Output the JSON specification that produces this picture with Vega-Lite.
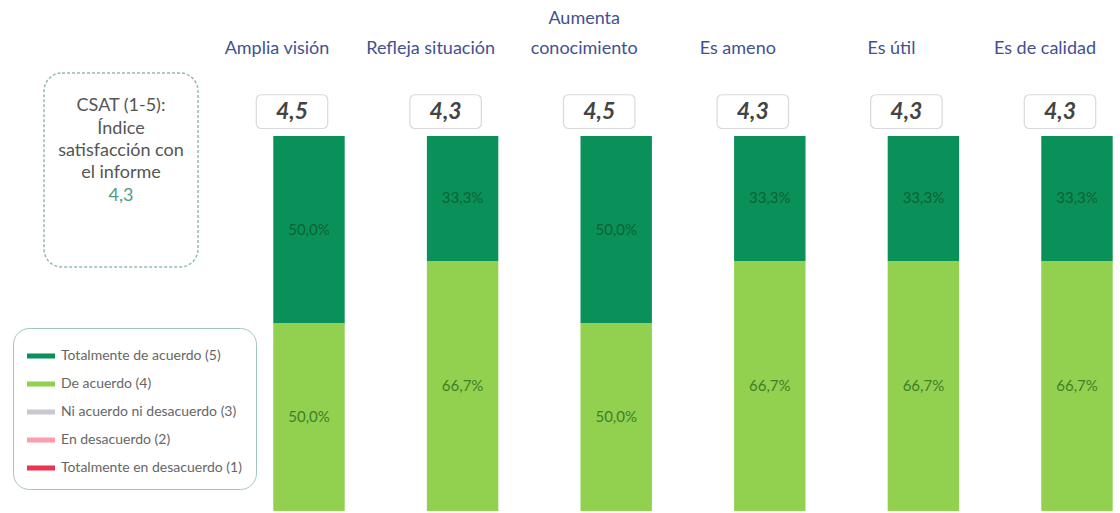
{
  "$schema": "https://vega.github.io/schema/vega-lite/v6.json",
  "padding": {"left": 12, "top": 27, "right": 0, "bottom": 2},
  "background": "white",
  "bounds": "flush",
  "spacing": 20,
  "config": {
    "font": "Lato",
    "locale": {"number": {"decimal": ",", "thousands": ".", "grouping": [3], "currency": ["", " €"]}},
    "view": {"stroke": null}
  },
  "hconcat": [
    {
      "width": 154,
      "height": 194,
      "view": {"stroke": "#93bcae", "strokeDash": [3, 2], "strokeWidth": 1.5, "cornerRadius": 18, "fill": "white"},
      "layer": [
        {
          "data": {"values": [
            {"line": 1, "text": "CSAT (1-5):"},
            {"line": 2, "text": "Índice"},
            {"line": 3, "text": "satisfacción con"},
            {"line": 4, "text": "el informe"}
          ]},
          "mark": {"type": "text", "fontSize": 18, "color": "#555555"},
          "encoding": {
            "y": {"field": "line", "type": "quantitative", "scale": {"domain": [-0.5, 8.2], "reverse": true}, "axis": null},
            "text": {"field": "text"}
          }
        },
        {
          "data": {"values": [{"line": 5, "csat": 4.3}]},
          "mark": {"type": "text", "fontSize": 18, "color": "#4e9c84"},
          "encoding": {
            "y": {"field": "line", "type": "quantitative", "scale": {"domain": [-0.5, 8.2], "reverse": true}, "axis": null},
            "text": {"field": "csat", "type": "quantitative", "format": ".1f"}
          }
        }
      ]
    },
    {
      "width": 950,
      "height": 438,
      "encoding": {
        "x": {
          "field": "item",
          "type": "nominal",
          "scale": {
            "domain": ["Amplia visión", "Refleja situación", "Aumenta conocimiento", "Es ameno", "Es útil", "Es de calidad"],
            "paddingInner": 0.535,
            "paddingOuter": 0.36
          },
          "axis": {
            "orient": "top",
            "title": null,
            "domain": false,
            "ticks": false,
            "labelPadding": 16,
            "labelFontSize": 18,
            "labelColor": "#43518f",
            "labelAngle": 0,
            "labelOffset": -32,
            "labelLimit": 0,
            "labelLineHeight": -30,
            "labelExpr": "datum.value == 'Aumenta conocimiento' ? ['conocimiento', 'Aumenta'] : datum.value"
          }
        }
      },
      "layer": [
        {
          "data": {"name": "resp", "values": [
            {"item": "Amplia visión", "cat": "Totalmente de acuerdo (5)", "pct": 0.5},
            {"item": "Amplia visión", "cat": "De acuerdo (4)", "pct": 0.5},
            {"item": "Refleja situación", "cat": "Totalmente de acuerdo (5)", "pct": 0.333},
            {"item": "Refleja situación", "cat": "De acuerdo (4)", "pct": 0.667},
            {"item": "Aumenta conocimiento", "cat": "Totalmente de acuerdo (5)", "pct": 0.5},
            {"item": "Aumenta conocimiento", "cat": "De acuerdo (4)", "pct": 0.5},
            {"item": "Es ameno", "cat": "Totalmente de acuerdo (5)", "pct": 0.333},
            {"item": "Es ameno", "cat": "De acuerdo (4)", "pct": 0.667},
            {"item": "Es útil", "cat": "Totalmente de acuerdo (5)", "pct": 0.333},
            {"item": "Es útil", "cat": "De acuerdo (4)", "pct": 0.667},
            {"item": "Es de calidad", "cat": "Totalmente de acuerdo (5)", "pct": 0.333},
            {"item": "Es de calidad", "cat": "De acuerdo (4)", "pct": 0.667}
          ]},
          "transform": [
            {"stack": "pct", "groupby": ["item"], "sort": [{"field": "cat", "order": "ascending"}], "as": ["y0", "y1"]}
          ],
          "mark": {"type": "bar"},
          "encoding": {
            "y": {"field": "y0", "type": "quantitative", "scale": {"domain": [0, 1.168], "nice": false}, "axis": null},
            "y2": {"field": "y1"},
            "color": {
              "field": "cat",
              "type": "nominal",
              "scale": {
                "domain": ["Totalmente de acuerdo (5)", "De acuerdo (4)", "Ni acuerdo ni desacuerdo (3)", "En desacuerdo (2)", "Totalmente en desacuerdo (1)"],
                "range": ["#0a9159", "#92d050", "#c9c9d3", "#ff9cae", "#e8344e"]
              },
              "legend": {
                "orient": "none",
                "legendX": -31,
                "legendY": 255,
                "direction": "vertical",
                "title": null,
                "symbolType": "M-1,-0.18H1V0.18H-1Z",
                "symbolSize": 784,
                "symbolStrokeWidth": 0,
                "labelFontSize": 14,
                "labelColor": "#666666",
                "labelOffset": 6,
                "labelLimit": 0,
                "rowPadding": 7,
                "padding": 14,
                "fillColor": "white",
                "strokeColor": "#a3c6bb",
                "cornerRadius": 16
              }
            }
          }
        },
        {
          "data": {"name": "resp"},
          "transform": [
            {"stack": "pct", "groupby": ["item"], "sort": [{"field": "cat", "order": "ascending"}], "as": ["y0", "y1"]},
            {"calculate": "(datum.y0 + datum.y1) / 2", "as": "ymid"}
          ],
          "mark": {"type": "text", "fontSize": 15},
          "encoding": {
            "y": {"field": "ymid", "type": "quantitative"},
            "text": {"field": "pct", "type": "quantitative", "format": ".1%"},
            "color": {"condition": {"test": "datum.cat === 'De acuerdo (4)'", "value": "#3d8026"}, "value": "#0b6237"}
          }
        },
        {
          "data": {"name": "scores", "values": [
            {"item": "Amplia visión", "score": 4.5},
            {"item": "Refleja situación", "score": 4.3},
            {"item": "Aumenta conocimiento", "score": 4.5},
            {"item": "Es ameno", "score": 4.3},
            {"item": "Es útil", "score": 4.3},
            {"item": "Es de calidad", "score": 4.3}
          ]},
          "mark": {"type": "rect", "fill": "white", "stroke": "#d9d9d9", "strokeWidth": 1.2, "cornerRadius": 5, "xOffset": -17, "x2Offset": -17},
          "encoding": {
            "y": {"datum": 1.02},
            "y2": {"datum": 1.11}
          }
        },
        {
          "data": {"name": "scores"},
          "mark": {"type": "text", "fontSize": 23, "fontWeight": "bold", "fontStyle": "italic", "color": "#444444", "dx": -17},
          "encoding": {
            "y": {"datum": 1.065},
            "text": {"field": "score", "type": "quantitative", "format": ".1f"}
          }
        }
      ]
    }
  ]
}
